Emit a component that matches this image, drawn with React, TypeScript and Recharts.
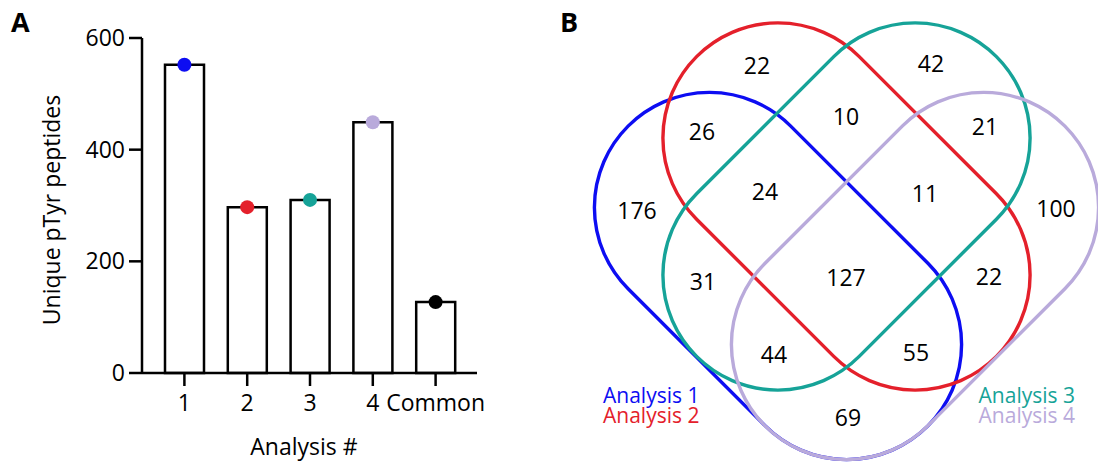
import React from 'react';
import { ComposedChart, Bar, Scatter, ScatterChart, XAxis, YAxis, Customized } from 'recharts';

// Panel A: unique pTyr peptides per analysis
const categories = ['1', '2', '3', '4', 'Common'];
const peptideCounts = [552, 297, 310, 449, 127];
const yTicks = [0, 200, 400, 600];

// Panel B: 4-way overlap, region membership and counts
const setNames = ['Analysis 1', 'Analysis 2', 'Analysis 3', 'Analysis 4'];
const regionSets = ['2', '3', '1,2', '2,3', '3,4', '1', '1,2,3', '2,3,4', '4', '1,3', '1,2,3,4', '2,4', '1,3,4', '1,2,4', '1,4'];
const regionCounts = [22, 42, 26, 10, 21, 176, 24, 11, 100, 31, 127, 22, 44, 55, 69];

// layout only (pixel positions of the region labels and the set outlines)
const regionLabelPos = [
  [757, 66], [931, 64], [702, 132], [846, 117], [985, 127],
  [637, 211], [765, 192], [925, 194], [1056, 209],
  [703, 282], [846, 278], [989, 277],
  [774, 355], [916, 353], [848, 418],
];
const outlinePos = [
  { x: 778, y: 276, angle: 45 },
  { x: 846.5, y: 206.5, angle: 45 },
  { x: 846.5, y: 206.5, angle: -45 },
  { x: 915, y: 276, angle: -45 },
];

const setColors = ['#0d0df2', '#e4202b', '#16a398', '#b9aadb'];
const dotColors = [...setColors, '#000000'];
const FONT = '"Open Sans", sans-serif';
const CAP_LEN = 424;
const CAP_R = 115;

const barData = categories.map((name, i) => ({ name, value: peptideCounts[i] }));
const regionData = regionCounts.map((count, i) => ({
  x: regionLabelPos[i][0],
  y: regionLabelPos[i][1],
  count,
  sets: regionSets[i],
}));

const Dot = (props: any) => {
  const idx = categories.indexOf(props.payload.name);
  return <circle cx={props.cx} cy={props.cy} r={7} fill={dotColors[idx]} />;
};

const PanelA = () => (
  <ComposedChart width={560} height={464} data={barData} margin={{ top: 38, right: 83, left: 62, bottom: 51 }}>
    <XAxis
      dataKey="name"
      height={40}
      padding={{ left: 11, right: 10 }}
      tickSize={13}
      tickMargin={9}
      axisLine={{ stroke: '#000', strokeWidth: 2.5 }}
      tickLine={{ stroke: '#000', strokeWidth: 2.5 }}
      tick={{ fill: '#000', fontSize: 23, fontFamily: FONT }}
      interval={0}
      label={() => (
        <text x={304} y={455} textAnchor="middle" fontSize={23} fontFamily={FONT} fill="#000">
          Analysis #
        </text>
      )}
    />
    <YAxis
      width={80}
      domain={[0, 600]}
      ticks={yTicks}
      interval={0}
      tickSize={13}
      tickMargin={4}
      axisLine={{ stroke: '#000', strokeWidth: 2.5 }}
      tickLine={{ stroke: '#000', strokeWidth: 2.5 }}
      tick={{ fill: '#000', fontSize: 23, fontFamily: FONT }}
      label={() => (
        <text transform="translate(60,210) rotate(-90)" textAnchor="middle" fontSize={23} fontFamily={FONT} fill="#000">
          Unique pTyr peptides
        </text>
      )}
    />
    <Bar dataKey="value" barSize={39} fill="#fff" stroke="#000" strokeWidth={2.5} isAnimationActive={false} />
    <Scatter dataKey="value" shape={Dot} isAnimationActive={false} />
    <Customized
      component={() => (
        <text x={11} y={32} fontSize={27} fontWeight="bold" fontFamily={FONT} fill="#000">
          A
        </text>
      )}
    />
  </ComposedChart>
);

const outlineShape = (color: string, angle: number) => (props: any) => (
  <rect
    x={props.cx - CAP_LEN / 2}
    y={props.cy - CAP_R}
    width={CAP_LEN}
    height={CAP_R * 2}
    rx={CAP_R}
    ry={CAP_R}
    fill="none"
    stroke={color}
    strokeWidth={3.4}
    transform={`rotate(${angle} ${props.cx} ${props.cy})`}
  />
);

const RegionLabel = (props: any) => (
  <text x={props.cx} y={props.cy + 8} textAnchor="middle" fontSize={23} fontFamily={FONT} fill="#000">
    {props.payload.count}
  </text>
);

const PanelB = () => (
  <ScatterChart width={538} height={464} margin={{ top: 0, right: 0, left: 0, bottom: 0 }}>
    <XAxis type="number" dataKey="x" domain={[560, 1098]} allowDataOverflow hide />
    <YAxis type="number" dataKey="y" domain={[0, 464]} allowDataOverflow reversed hide />
    {setNames.map((name, i) => (
      <Scatter
        key={name}
        name={name}
        data={[{ x: outlinePos[i].x, y: outlinePos[i].y }]}
        shape={outlineShape(setColors[i], outlinePos[i].angle)}
        isAnimationActive={false}
      />
    ))}
    <Scatter data={regionData} shape={RegionLabel} isAnimationActive={false} />
    <Customized
      component={() => (
        <g fontFamily={FONT} fontSize={21}>
          <text x={0} y={32} fontSize={27} fontWeight="bold" fill="#000">B</text>
          <text x={43} y={403} fill={setColors[0]}>{setNames[0]}</text>
          <text x={43} y={423} fill={setColors[1]}>{setNames[1]}</text>
          <text x={515} y={403} textAnchor="end" fill={setColors[2]}>{setNames[2]}</text>
          <text x={515} y={423} textAnchor="end" fill={setColors[3]}>{setNames[3]}</text>
        </g>
      )}
    />
  </ScatterChart>
);

export default function App() {
  return (
    <div style={{ position: 'absolute', left: 0, top: 0, width: 1098, height: 464, background: '#fff', display: 'flex' }}>
      <PanelA />
      <PanelB />
    </div>
  );
}
